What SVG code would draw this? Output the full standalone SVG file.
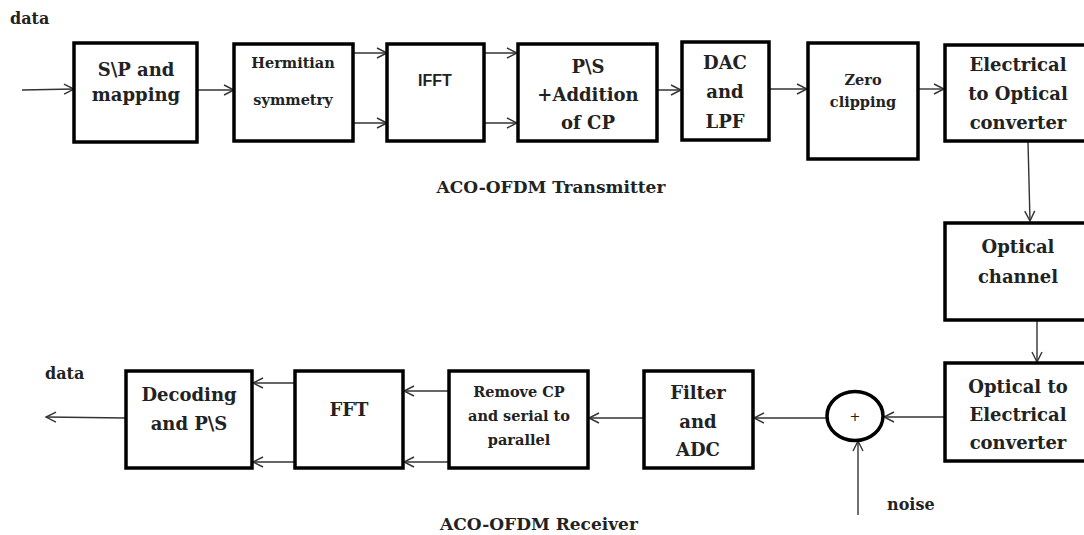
<svg xmlns="http://www.w3.org/2000/svg" width="1084" height="535" viewBox="0 0 1084 535">
<style>
.box{fill:#fff;stroke:#000;stroke-width:3.5}
.t{font-family:"DejaVu Serif","Liberation Serif",serif;font-weight:bold;fill:#222;text-anchor:middle}
.l{font-size:18px}
.s{font-size:14.5px}
.c{stroke:#333;stroke-width:1.4;fill:none;marker-end:url(#ah)}
</style>
<defs>
<marker id="ah" markerWidth="14" markerHeight="14" refX="11" refY="6" orient="auto" markerUnits="userSpaceOnUse">
<polyline points="1,1 11,6 1,11" fill="none" stroke="#333" stroke-width="1.4"/>
</marker>
</defs>
<rect width="1084" height="535" fill="#fff"/>
<g id="connectors">
<line class="c" x1="22" y1="90" x2="74" y2="89"/>
<line class="c" x1="197" y1="90" x2="234" y2="90"/>
<line class="c" x1="353" y1="53" x2="387" y2="53"/>
<line class="c" x1="353" y1="123" x2="387" y2="123"/>
<line class="c" x1="484" y1="53" x2="517" y2="53"/>
<line class="c" x1="484" y1="123" x2="517" y2="123"/>
<line class="c" x1="645" y1="90" x2="681" y2="90"/>
<line class="c" x1="769" y1="89" x2="807" y2="89"/>
<line class="c" x1="918" y1="89" x2="944" y2="89"/>
<line class="c" x1="1028" y1="142" x2="1030" y2="221"/>
<line class="c" x1="1037" y1="320" x2="1037" y2="362"/>
<line class="c" x1="945" y1="417" x2="884" y2="417"/>
<line class="c" x1="858" y1="515" x2="858" y2="441"/>
<line class="c" x1="827" y1="418" x2="754" y2="418"/>
<line class="c" x1="644" y1="418" x2="589" y2="418"/>
<line class="c" x1="449" y1="391" x2="404" y2="391"/>
<line class="c" x1="449" y1="462" x2="404" y2="462"/>
<line class="c" x1="295" y1="383" x2="253" y2="383"/>
<line class="c" x1="295" y1="462" x2="253" y2="462"/>
<line class="c" x1="126" y1="418" x2="46" y2="417"/>
</g>
<g id="n_sp"><rect class="box" x="74" y="43" width="123" height="99"/><text class="t l" x="136" y="76">S\P and</text><text class="t l" x="136" y="101">mapping</text></g>
<g id="n_herm"><rect class="box" x="234" y="44" width="119" height="97"/><text class="t s" x="293" y="68">Hermitian</text><text class="t s" x="293" y="105">symmetry</text></g>
<g id="n_ifft"><rect class="box" x="387" y="44" width="97" height="97"/><text x="435" y="86" style="font-family:'Liberation Sans',Arial,sans-serif;font-weight:bold;font-size:16px;text-anchor:middle;fill:#222">IFFT</text></g>
<g id="n_ps"><rect class="box" x="518" y="44" width="139" height="97"/><text class="t l" x="588" y="73">P\S</text><text class="t l" x="588" y="101">+Addition</text><text class="t l" x="588" y="129">of CP</text></g>
<g id="n_dac"><rect class="box" x="682" y="42" width="87" height="98"/><text class="t l" x="725" y="69">DAC</text><text class="t l" x="725" y="98">and</text><text class="t l" x="725" y="128">LPF</text></g>
<g id="n_zero"><rect class="box" x="808" y="43" width="110" height="116"/><text class="t s" x="863" y="85">Zero</text><text class="t s" x="863" y="107">clipping</text></g>
<g id="n_eo"><rect class="box" x="945" y="45" width="150" height="96"/><text class="t l" x="1018" y="71">Electrical</text><text class="t l" x="1018" y="100">to Optical</text><text class="t l" x="1018" y="129">converter</text></g>
<g id="n_ch"><rect class="box" x="945" y="223" width="150" height="97"/><text class="t l" x="1018" y="253">Optical</text><text class="t l" x="1018" y="283">channel</text></g>
<g id="n_oe"><rect class="box" x="945" y="363" width="150" height="98"/><text class="t l" x="1018" y="393">Optical to</text><text class="t l" x="1018" y="421">Electrical</text><text class="t l" x="1018" y="449">converter</text></g>
<g id="n_sum"><ellipse cx="855" cy="416" rx="28" ry="24.5" fill="#fff" stroke="#000" stroke-width="3.5"/><text x="855" y="421" style="font-family:'DejaVu Sans',sans-serif;font-size:13px;text-anchor:middle;fill:#222">+</text></g>
<g id="n_filter"><rect class="box" x="644" y="371" width="109" height="97"/><text class="t l" x="698" y="399">Filter</text><text class="t l" x="698" y="428">and</text><text class="t l" x="698" y="456">ADC</text></g>
<g id="n_rcp"><rect class="box" x="449" y="371" width="139" height="97"/><text class="t s" x="519" y="397">Remove CP</text><text class="t s" x="519" y="421">and serial to</text><text class="t s" x="519" y="445">parallel</text></g>
<g id="n_fft"><rect class="box" x="295" y="371" width="108" height="97"/><text class="t l" x="349" y="416">FFT</text></g>
<g id="n_dec"><rect class="box" x="126" y="371" width="126" height="97"/><text class="t l" x="189" y="401">Decoding</text><text class="t l" x="189" y="430">and P\S</text></g>
<g id="labels">
<text class="t" x="10" y="24" style="font-size:16px;text-anchor:start">data</text>
<text class="t" x="45" y="379" style="font-size:16px;text-anchor:start">data</text>
<text class="t" x="887" y="510" style="font-size:16px;text-anchor:start">noise</text>
<text class="t" x="551" y="193" style="font-size:17px">ACO-OFDM Transmitter</text>
<text class="t" x="539" y="530" style="font-size:17px">ACO-OFDM Receiver</text>
</g>
</svg>
